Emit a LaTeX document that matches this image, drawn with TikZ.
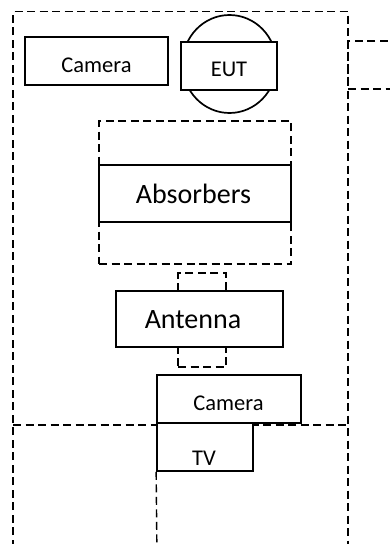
\documentclass[tikz,border=0pt]{standalone}
\usepackage{fontspec}
\setmainfont{Carlito}
\usetikzlibrary{shapes.geometric}
\begin{document}
\begin{tikzpicture}[x={(1pt,0)}, y={(0,-1pt)},
  box/.style={draw, line width=1.7pt, fill=white, inner sep=0pt},
  dashbox/.style={draw, line width=1.4pt, dash pattern=on 8pt off 4.5pt, inner sep=0pt},
  dashline/.style={line width=1.4pt, dash pattern=on 8pt off 4.5pt},
  small/.style={font=\fontsize{22.5}{27}\selectfont, anchor=base, inner sep=0pt},
  large/.style={font=\fontsize{28}{33}\selectfont, anchor=base, inner sep=0pt}]
\useasboundingbox (0,0) rectangle (390,544);
\clip (0,0) rectangle (390,544);

% outer enclosure and the floor line
\coordinate (ol) at (13,560);
\coordinate (otl) at (13,11.5);
\coordinate (otr) at (348,11.5);
\coordinate (or) at (348,560);
\draw[dashline] (ol) -- (otl) -- (otr) -- (or);
\coordinate (fl) at (13,425);
\coordinate (fr) at (348,425);
\draw[dashline] (fl) -- (fr);

% adjoining room on the right
\coordinate (rb1) at (400,41);
\coordinate (rb2) at (348,41);
\coordinate (rb3) at (348,89);
\coordinate (rb4) at (400,89);
\draw[dashline] (rb1) -- (rb2) -- (rb3) -- (rb4);

% absorbers
\node[dashbox, minimum width=192pt, minimum height=143pt] (absarea) at (195,192.5) {};
\node[box, minimum width=192pt, minimum height=57pt] (abs) at (195,193.5) {};
\node[large] (abst) at (193.5,203) {Absorbers};

% antenna with its mast
\node[dashbox, minimum width=48pt, minimum height=94pt] (mast) at (202,320) {};
\node[box, minimum width=167pt, minimum height=56pt] (ant) at (199.5,319) {};
\node[large] (antt) at (193,328) {Antenna};

% EUT on its turntable
\node[draw, line width=1.7pt, fill=white, ellipse, minimum width=94pt, minimum height=98pt, inner sep=0pt] (dome) at (229.5,64) {};
\node[box, minimum width=96pt, minimum height=48pt] (eut) at (229,66) {};
\node[small] (eutt) at (229,76) {EUT};

% cameras and monitor
\node[box, minimum width=143pt, minimum height=48pt] (cam1) at (96.5,61) {};
\node[small] (cam1t) at (96.5,72) {Camera};
\node[box, minimum width=144pt, minimum height=48pt] (cam2) at (229,399) {};
\node[small] (cam2t) at (228.5,410) {Camera};
\node[box, minimum width=96pt, minimum height=48pt] (tv) at (205,447) {};
\node[small] (tvt) at (204,465) {TV};

\coordinate (tvend) at (157,560);
\draw[dashline] (tv.south west) -- (tvend);
\end{tikzpicture}
\end{document}
